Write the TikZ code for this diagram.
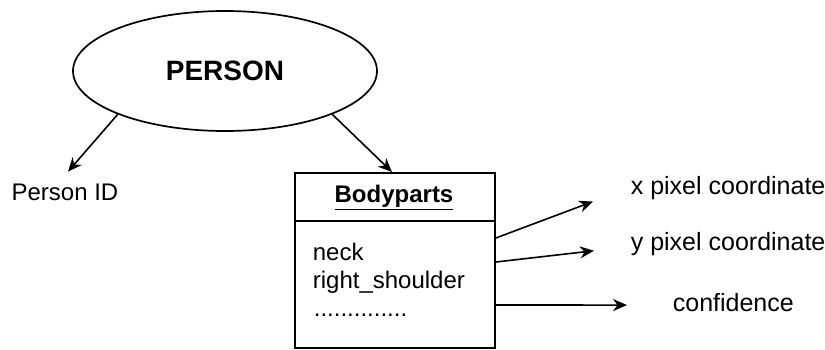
\documentclass[tikz,border=0pt]{standalone}
\usepackage{fontspec}
\setmainfont{Liberation Sans}
\usetikzlibrary{shapes.geometric,arrows.meta}

\tikzset{
  arr/.style={-{Stealth[length=7pt,width=6pt]}, line width=0.8pt},
  txt/.style={inner sep=0pt, font=\fontsize{12}{14}\selectfont},
  val/.style={inner sep=0pt, font=\fontsize{12.5}{14}\selectfont, anchor=base west},
}

\begin{document}
\begin{tikzpicture}[x=0.5pt,y=-0.5pt,line width=0.85pt]

\useasboundingbox (0,0) rectangle (825,349);
\clip (0,0) rectangle (825,349);

% entity
\node[draw, ellipse, minimum width=152pt, minimum height=60pt,
      font=\fontsize{14}{16}\bfseries] (person) at (225,71) {PERSON};
\node[txt, anchor=base] (pid) at (65,200) {Person ID};

% body part table
\node[draw, minimum width=100pt, minimum height=87.5pt, anchor=north] (bp) at (395,172) {};
\draw (bp.north west) ++(0,49) -- ++(200,0);
\node[inner sep=0pt, anchor=base, font=\fontsize{12}{14}\bfseries] (bphead) at (394,202) {\underline{Bodyparts}};
\node[txt, anchor=base west] (neck) at (312,260) {neck};
\node[txt, anchor=base west] (rsh) at (312,288) {right\_shoulder};
\node[txt, anchor=base west] (more) at (313,316) {..............};

% values per part
\node[val] (xpix) at (630,194) {x pixel coordinate};
\node[val] (ypix) at (630,250) {y pixel coordinate};
\node[val] (conf) at (672,311) {confidence};

\draw[arr] (person.202) -- ([xshift=1.5pt,yshift=5.5pt]pid.north);
\draw[arr] (person.338) -- ([xshift=-1.5pt]bp.north);

\draw[arr] ([yshift=-33pt]bp.north east) -- ([xshift=-18.5pt,yshift=-7pt]xpix.west);
\draw[arr] ([yshift=-45pt]bp.north east) -- ([xshift=-18pt,yshift=-3.6pt]ypix.west);
\draw[arr] ([yshift=-66.5pt]bp.north east) -- ([xshift=-22.5pt,yshift=-1.5pt]conf.west);

\end{tikzpicture}
\end{document}
